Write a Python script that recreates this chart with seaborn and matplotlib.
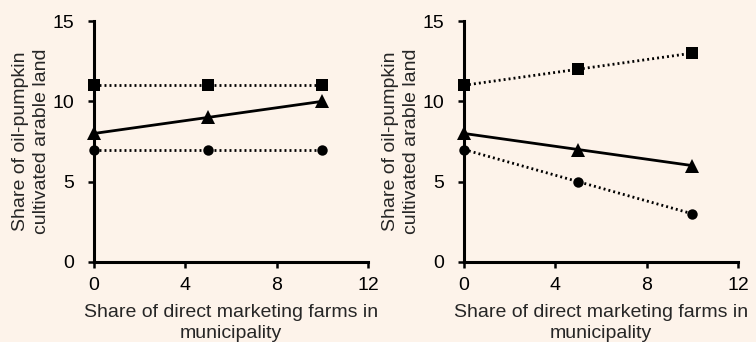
import pandas as pd
import matplotlib
matplotlib.use("Agg")
import matplotlib.pyplot as plt
import seaborn as sns

# share of direct marketing farms (x) and predicted shares for three groups
x_vals = [0, 5, 10]
left_square = [11, 11, 11]
left_triangle = [8, 9, 10]
left_circle = [7, 7, 7]
right_square = [11, 12, 13]
right_triangle = [8, 7, 6]
right_circle = [7, 5, 3]

x_ticks = [0, 4, 8, 12]
y_ticks = [0, 5, 10, 15]
xlabel = "Share of direct marketing farms in\nmunicipality"
ylabel = "Share of oil-pumpkin\ncultivated arable land"

bg = "#fdf3ea"

sns.set_style("ticks")
plt.rcParams["font.family"] = ["Liberation Sans", "DejaVu Sans"]
plt.rcParams["axes.linewidth"] = 2.2
plt.rcParams["xtick.major.width"] = 1.8
plt.rcParams["ytick.major.width"] = 1.8
plt.rcParams["xtick.major.size"] = 4
plt.rcParams["ytick.major.size"] = 4
plt.rcParams["xtick.color"] = "black"
plt.rcParams["ytick.color"] = "black"
plt.rcParams["axes.edgecolor"] = "black"


def make_df(sq, tri, circ):
    rows = []
    for name, vals in [("square", sq), ("triangle", tri), ("circle", circ)]:
        for xv, yv in zip(x_vals, vals):
            rows.append({"x": xv, "y": yv, "series": name})
    return pd.DataFrame(rows)


fig = plt.figure(figsize=(7.56, 3.42), dpi=100, facecolor=bg)
ax1 = fig.add_axes([94 / 756, 1 - 262 / 342, 274 / 756, 241 / 342])
ax2 = fig.add_axes([464 / 756, 1 - 262 / 342, 274 / 756, 241 / 342])

markers = {"square": "s", "triangle": "^", "circle": "o"}
dashes = {"square": (0.7, 1.1), "triangle": "", "circle": (0.7, 1.1)}
palette = {"square": "black", "triangle": "black", "circle": "black"}
marker_sizes = {"square": 8, "triangle": 10, "circle": 7.5}

for ax, (sq, tri, circ) in [(ax1, (left_square, left_triangle, left_circle)),
                            (ax2, (right_square, right_triangle, right_circle))]:
    df = make_df(sq, tri, circ)
    sns.lineplot(data=df, x="x", y="y", hue="series", style="series",
                 markers=markers, dashes=dashes, palette=palette,
                 linewidth=2.0, markersize=8, markeredgewidth=0,
                 legend=False, ax=ax, clip_on=False, zorder=3)
    for line, name in zip(ax.lines, ["square", "triangle", "circle"]):
        line.set_markersize(marker_sizes[name])
    ax.set_facecolor(bg)
    ax.set_xlim(0, 12)
    ax.set_ylim(0, 15)
    ax.set_xticks(x_ticks)
    ax.set_yticks(y_ticks)
    ax.tick_params(axis="x", labelsize=14, pad=7)
    ax.tick_params(axis="y", labelsize=14, pad=10)
    ax.set_xlabel(xlabel, fontsize=14, labelpad=7, linespacing=1.3)
    ax.set_ylabel(ylabel, fontsize=14, labelpad=2, linespacing=1.3)
    sns.despine(ax=ax)

fig.savefig("out.png", dpi=100, facecolor=bg)
